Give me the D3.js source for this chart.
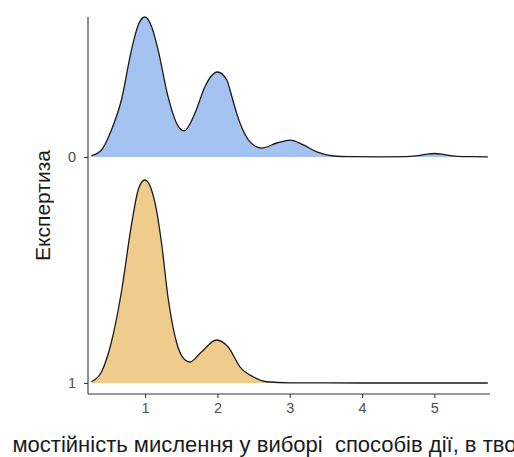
<!DOCTYPE html>
<html>
<head>
<meta charset="utf-8">
<script src="https://cdn.jsdelivr.net/npm/d3@7"></script>
<style>
  html, body { margin: 0; padding: 0; background: #fff; }
  svg { display: block; }
  text { font-family: "Liberation Sans", Arial, sans-serif; }
</style>
</head>
<body>
<svg id="chart" width="514" height="457"></svg>
<script>
// ---- data ----
const categories = ["1", "0"]; // bottom to top
const xTicks = [1, 2, 3, 4, 5];
const xTitle = "Самостійність мислення у виборі  способів дії, в творчості";
const yTitle = "Експертиза";

// density curve for group "0"
const x0 = [0.257, 0.396, 0.534, 0.672, 0.811, 0.91, 0.996, 1.09, 1.18, 1.318, 1.433, 1.539, 1.687, 1.826, 1.91, 2.0, 2.13, 2.2, 2.268, 2.337, 2.43, 2.52, 2.614, 2.822, 3.006, 3.19, 3.375, 3.6, 3.835, 4.3, 4.6, 4.75, 4.88, 5.0, 5.12, 5.25, 5.4, 5.54, 5.74];
const d0 = [0.009, 0.05, 0.193, 0.407, 0.764, 0.95, 1.0, 0.93, 0.764, 0.429, 0.243, 0.186, 0.31, 0.5, 0.575, 0.607, 0.55, 0.43, 0.31, 0.21, 0.12, 0.079, 0.064, 0.1, 0.121, 0.086, 0.036, 0.007, 0.002, 0.001, 0.002, 0.008, 0.019, 0.025, 0.019, 0.008, 0.003, 0.002, 0.001];

// density curve for group "1"
const x1 = [0.257, 0.396, 0.534, 0.672, 0.811, 0.91, 0.996, 1.134, 1.225, 1.318, 1.433, 1.526, 1.618, 1.779, 1.986, 2.148, 2.314, 2.498, 2.683, 3.0, 4.0, 5.74];
const d1 = [0.009, 0.079, 0.293, 0.65, 1.129, 1.39, 1.45, 1.293, 1.007, 0.607, 0.293, 0.179, 0.15, 0.221, 0.307, 0.257, 0.114, 0.043, 0.009, 0.001, 0.0, 0.0];

const fills = ["#F0CC8C", "#A4C3F0"]; // for "1", "0"

// ---- layout ----
const svg = d3.select("#chart");
const axisLeft = 88, axisRight = 490, axisTop = 17, axisBottom = 394;

const x = d3.scaleLinear().domain([0.21, 5.77]).range([axisLeft, axisRight]);
const yCat = d3.scalePoint().domain(categories).range([383, 157]);
const h = d3.scaleLinear().domain([0, 1]).range([0, 140]);

const groups = [
  { cat: "1", xs: x1, ds: d1, fill: fills[0] },
  { cat: "0", xs: x0, ds: d0, fill: fills[1] }
];

groups.slice().reverse().forEach(g => {
  const pts = g.xs.map((v, i) => [v, g.ds[i]]);
  const base = yCat(g.cat);
  const area = d3.area()
    .x(d => x(d[0])).y0(base).y1(d => base - h(d[1]))
    .curve(d3.curveMonotoneX);
  const line = d3.line()
    .x(d => x(d[0])).y(d => base - h(d[1]))
    .curve(d3.curveMonotoneX);
  svg.append("path").attr("d", area(pts)).attr("fill", g.fill).attr("stroke", "none");
  svg.append("path").attr("d", line(pts)).attr("fill", "none")
    .attr("stroke", "#1a1a1a").attr("stroke-width", 1.3);
});

// ---- axes ----
const axisColor = "#333333";
const gx = svg.append("g").attr("transform", `translate(0,${axisBottom})`)
  .call(d3.axisBottom(x).tickValues(xTicks).tickSize(4).tickPadding(5).tickFormat(d3.format("d")));
gx.select(".domain").attr("d", `M${axisLeft},0H${axisRight}`).attr("stroke", axisColor).attr("stroke-width", 1.1);
gx.selectAll(".tick line").attr("stroke", axisColor).attr("stroke-width", 1.1);
gx.selectAll(".tick text").attr("fill", "#4D4D4D").style("font-size", "14.5px")
  .style("font-family", "'Liberation Sans', Arial, sans-serif");

const gy = svg.append("g").attr("transform", `translate(${axisLeft},0)`)
  .call(d3.axisLeft(yCat).tickSize(4).tickPadding(8));
gy.select(".domain").attr("d", `M0,${axisTop}V${axisBottom}`).attr("stroke", axisColor).attr("stroke-width", 1.1);
gy.selectAll(".tick line").attr("stroke", axisColor).attr("stroke-width", 1.1);
gy.selectAll(".tick text").attr("fill", "#4D4D4D").style("font-size", "14.5px")
  .style("font-family", "'Liberation Sans', Arial, sans-serif");

// ---- titles ----
// the reference image shows the x title cropped at both sides
svg.append("clipPath").attr("id", "titleClip")
  .append("rect").attr("x", 12.5).attr("y", 420).attr("width", 502).attr("height", 37);
const xt = svg.append("text")
  .attr("clip-path", "url(#titleClip)")
  .attr("x", 0).attr("y", 452)
  .attr("text-anchor", "start")
  .attr("fill", "#1a1a1a")
  .style("font-size", "22px")
  .style("white-space", "pre")
  .text(xTitle);
const prefixW = xt.node().getSubStringLength(0, 2);
xt.attr("x", 12.5 - prefixW);

svg.append("text")
  .attr("transform", `translate(50,${(axisTop + axisBottom) / 2}) rotate(-90)`)
  .attr("text-anchor", "middle")
  .attr("fill", "#1a1a1a")
  .style("font-size", "21px")
  .text(yTitle);
</script>
</body>
</html>
